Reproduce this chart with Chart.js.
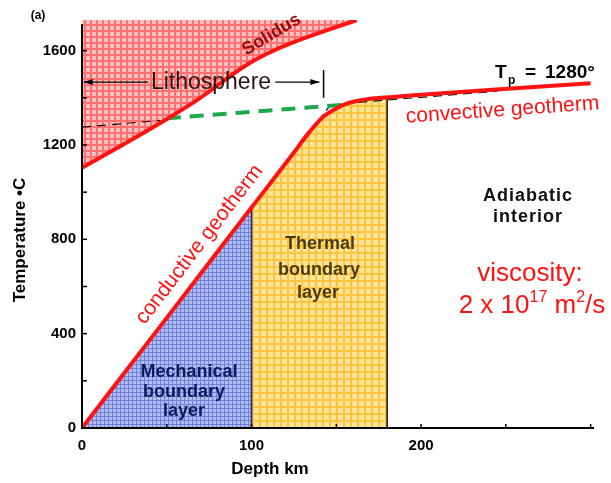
<!DOCTYPE html>
<html>
<head>
<meta charset="utf-8">
<script src="https://cdn.jsdelivr.net/npm/chart.js@4"></script>
<style>
  html, body { margin: 0; padding: 0; background: #fff; }
  #wrap { width: 611px; height: 483px; }
</style>
</head>
<body>
<div id="wrap"><canvas id="chart" width="611" height="483"></canvas></div>
<script>
// Solidus curve (depth km, temperature C)
const solidusDepth = [0, 30, 54, 68, 97, 110, 123, 162];
const solidusTemp = [1103, 1225, 1327, 1391, 1539, 1590, 1631, 1730];

// Geotherm: conductive part, thermal boundary layer bend, then convective adiabat
const geoDepth = [0, 50, 100, 125, 133, 142, 150, 156, 163, 170, 180, 194, 240, 300];
const geoTemp = [0, 467, 935, 1168, 1245, 1318, 1355, 1375, 1388, 1396, 1402, 1410, 1433, 1462];

// Base of the lithosphere (green dashed) and its continuation in the solidus area
const lithoBaseDepth = [50, 154];
const lithoBaseTemp = [1313, 1370];
const lithoGuideDepth = [0, 46];
const lithoGuideTemp = [1276, 1304];

// Dashed extrapolations
const conductiveExtDepth = [132, 146];
const conductiveExtTemp = [1235, 1364];
const adiabatExtDepth = [163, 245];
const adiabatExtTemp = [1381, 1428];

// Layer boundaries
const mechBase = 100;
const thermalBase = 180;

// Lithosphere arrow
const lithoArrowTemp = 1467;
const lithoArrowLeft = [1, 39];
const lithoArrowRight = [114, 140];
const lithoEnd = 142.5;
const lithoBarTemp = [1400, 1518];

const xTicks = [0, 50, 100, 150, 200, 250, 300];
const xTickLabels = [0, 100, 200];
const yTickLabels = [0, 400, 800, 1200, 1600];

const xy = (xs, ys) => xs.map((x, i) => ({ x: x, y: ys[i] }));
const geoPoints = xy(geoDepth, geoTemp);
const solidusPoints = xy(solidusDepth, solidusTemp);

const FONT = '"Liberation Sans", Arial, sans-serif';

function makePattern(base, line, size, lw) {
    const c = document.createElement('canvas');
    c.width = size;
    c.height = size;
    const g = c.getContext('2d');
    g.fillStyle = base;
    g.fillRect(0, 0, size, size);
    g.fillStyle = line;
    g.fillRect(0, 0, lw, size);
    g.fillRect(0, 0, size, lw);
    return g.createPattern(c, 'repeat');
}

const pinkFill = makePattern('#ffc0c0', '#ff7070', 6, 2);
const blueFill = makePattern('#b2bef2', '#7080dc', 4, 1);
const yellowFill = makePattern('#ffe59a', '#ffc440', 7, 2);

const RED = '#ff1212';

function lineSet(data, color, width, dash, order) {
    return {
        data: data,
        borderColor: color,
        borderWidth: width,
        borderDash: dash || [],
        pointRadius: 0,
        fill: false,
        order: order
    };
}

function fillSet(data, pattern, target) {
    return {
        data: data,
        borderWidth: 0,
        borderColor: 'rgba(0,0,0,0)',
        pointRadius: 0,
        fill: target,
        backgroundColor: pattern,
        cubicInterpolationMode: 'monotone',
        order: 20
    };
}

// Text, axes and arrows drawn on top of the datasets
const decorPlugin = {
    id: 'decor',
    afterDatasetsDraw(chart) {
        const ctx = chart.ctx;
        const xs = chart.scales.x;
        const ys = chart.scales.y;
        const a = chart.chartArea;
        ctx.save();

        // axes with inward ticks
        ctx.strokeStyle = '#000';
        ctx.lineWidth = 2;
        ctx.beginPath();
        ctx.moveTo(a.left, ys.getPixelForValue(1712));
        ctx.lineTo(a.left, a.bottom);
        ctx.lineTo(a.right, a.bottom);
        ctx.stroke();
        ctx.lineWidth = 1.5;
        ys.ticks.forEach(t => {
            const y = ys.getPixelForValue(t.value);
            ctx.beginPath();
            ctx.moveTo(a.left, y);
            ctx.lineTo(a.left + 5, y);
            ctx.stroke();
        });
        xTicks.forEach(v => {
            const x = xs.getPixelForValue(v);
            ctx.beginPath();
            ctx.moveTo(x, a.bottom);
            ctx.lineTo(x, a.bottom - 4);
            ctx.stroke();
        });

        // x tick labels
        ctx.fillStyle = '#000';
        ctx.textAlign = 'center';
        ctx.textBaseline = 'alphabetic';
        ctx.font = 'bold 15px ' + FONT;
        xTickLabels.forEach(v => {
            ctx.fillText(String(v), xs.getPixelForValue(v), a.bottom + 22);
        });

        // lithosphere arrowheads
        const ay = ys.getPixelForValue(lithoArrowTemp);
        const al = xs.getPixelForValue(lithoArrowLeft[0]);
        const ar = xs.getPixelForValue(lithoArrowRight[1]);
        ctx.beginPath();
        ctx.moveTo(al, ay);
        ctx.lineTo(al + 9, ay - 3);
        ctx.lineTo(al + 9, ay + 3);
        ctx.closePath();
        ctx.fill();
        ctx.beginPath();
        ctx.moveTo(ar, ay);
        ctx.lineTo(ar - 9, ay - 3);
        ctx.lineTo(ar - 9, ay + 3);
        ctx.closePath();
        ctx.fill();

        ctx.font = 'bold 12px ' + FONT;
        ctx.fillText('(a)', 38, 19);

        // Solidus
        ctx.save();
        ctx.translate(274, 39);
        ctx.rotate(-31 * Math.PI / 180);
        ctx.font = 'bold 18px ' + FONT;
        ctx.fillStyle = '#960a0a';
        ctx.fillText('Solidus', 0, 0);
        ctx.restore();

        // Lithosphere
        ctx.font = '23px ' + FONT;
        ctx.fillStyle = '#2b1414';
        ctx.fillText('Lithosphere', 211, 89);

        // Tp = 1280
        ctx.textAlign = 'left';
        ctx.fillStyle = '#000';
        ctx.font = 'bold 19px ' + FONT;
        ctx.fillText('T', 495, 78);
        ctx.font = 'bold 12px ' + FONT;
        ctx.fillText('p', 508, 84);
        ctx.font = 'bold 19px ' + FONT;
        ctx.fillText('=', 525, 78);
        ctx.fillText('1280°', 545, 78);

        // convective geotherm
        ctx.textAlign = 'center';
        ctx.save();
        ctx.translate(503, 116);
        ctx.rotate(-4 * Math.PI / 180);
        ctx.font = '21px ' + FONT;
        ctx.fillStyle = RED;
        ctx.fillText('convective geotherm', 0, 0);
        ctx.restore();

        // conductive geotherm, along the line
        const p0x = xs.getPixelForValue(geoDepth[0]);
        const p0y = ys.getPixelForValue(geoTemp[0]);
        const p1x = xs.getPixelForValue(geoDepth[2]);
        const p1y = ys.getPixelForValue(geoTemp[2]);
        const ang = Math.atan2(p1y - p0y, p1x - p0x);
        const mx = p0x + (p1x - p0x) * 0.78;
        const my = p0y + (p1y - p0y) * 0.78;
        ctx.save();
        ctx.translate(mx, my);
        ctx.rotate(ang);
        ctx.font = '21px ' + FONT;
        ctx.fillStyle = RED;
        ctx.fillText('conductive geotherm', 0, -13);
        ctx.restore();

        // layer labels
        ctx.font = 'bold 18px ' + FONT;
        ctx.fillStyle = '#0c1a5a';
        ctx.fillText('Mechanical', 189, 377);
        ctx.fillText('boundary', 184, 397);
        ctx.fillText('layer', 184, 416);

        ctx.fillStyle = '#4a3c08';
        ctx.fillText('Thermal', 320, 249);
        ctx.fillText('boundary', 319, 275);
        ctx.fillText('layer', 318, 298);

        ctx.fillStyle = '#111';
        ctx.letterSpacing = '1px';
        ctx.fillText('Adiabatic', 528, 201);
        ctx.fillText('interior', 528, 222);
        ctx.letterSpacing = '0px';

        // viscosity
        ctx.fillStyle = RED;
        ctx.font = '26px ' + FONT;
        ctx.fillText('viscosity:', 530, 281);
        const parts = [['2 x 10', 26, 0], ['17', 16, -11], [' m', 26, 0], ['2', 16, -11], ['/s', 26, 0]];
        let total = 0;
        parts.forEach(p => {
            ctx.font = p[1] + 'px ' + FONT;
            total += ctx.measureText(p[0]).width;
        });
        ctx.textAlign = 'left';
        let vx = 532 - total / 2;
        parts.forEach(p => {
            ctx.font = p[1] + 'px ' + FONT;
            ctx.fillText(p[0], vx, 313 + p[2]);
            vx += ctx.measureText(p[0]).width;
        });

        // axis titles
        ctx.textAlign = 'center';
        ctx.fillStyle = '#000';
        ctx.font = 'bold 17px ' + FONT;
        ctx.fillText('Depth km', 270, 474);
        ctx.save();
        ctx.translate(25, 240);
        ctx.rotate(-Math.PI / 2);
        ctx.fillText('Temperature •C', 0, 0);
        ctx.restore();

        ctx.restore();
    }
};

new Chart(document.getElementById('chart'), {
    type: 'line',
    data: {
        datasets: [
            // filled regions, drawn first
            fillSet(solidusPoints, pinkFill, 'end'),
            fillSet(geoPoints.filter(p => p.x <= mechBase), blueFill, 'origin'),
            fillSet(geoPoints.filter(p => p.x >= mechBase && p.x <= thermalBase), yellowFill, 'origin'),
            // layer edges
            lineSet([{ x: mechBase, y: 0 }, { x: mechBase, y: geoTemp[geoDepth.indexOf(mechBase)] }], '#14206a', 1.5, null, 5),
            lineSet([{ x: thermalBase, y: 0 }, { x: thermalBase, y: geoTemp[geoDepth.indexOf(thermalBase)] }], '#111', 1.5, null, 5),
            // dashed lines
            lineSet(xy(lithoGuideDepth, lithoGuideTemp), '#111', 1.2, [9, 6], 5),
            lineSet(xy(conductiveExtDepth, conductiveExtTemp), '#111', 1.2, [6, 5], 5),
            lineSet(xy(adiabatExtDepth, adiabatExtTemp), '#111', 1.2, [9, 6], 5),
            lineSet(xy(lithoBaseDepth, lithoBaseTemp), '#1fa84a', 4, [14, 9], 3),
            // lithosphere arrow
            lineSet(xy(lithoArrowLeft, [lithoArrowTemp, lithoArrowTemp]), '#000', 1.2, null, 5),
            lineSet(xy(lithoArrowRight, [lithoArrowTemp, lithoArrowTemp]), '#000', 1.2, null, 5),
            lineSet(xy([lithoEnd, lithoEnd], lithoBarTemp), '#000', 1.5, null, 5),
            // red curves on top
            Object.assign(lineSet(solidusPoints, RED, 4, null, 1), { cubicInterpolationMode: 'monotone' }),
            Object.assign(lineSet(geoPoints, RED, 4, null, 0), { cubicInterpolationMode: 'monotone' })
        ]
    },
    options: {
        responsive: false,
        animation: false,
        layout: { padding: { top: 20, right: 17, left: 0, bottom: 0 } },
        plugins: {
            legend: { display: false },
            tooltip: { enabled: false }
        },
        scales: {
            x: {
                type: 'linear',
                min: 0,
                max: 302,
                grid: { display: false, drawTicks: false },
                border: { display: false },
                ticks: { display: false },
                afterFit: s => { s.height = 55; }
            },
            y: {
                type: 'linear',
                min: 0,
                max: 1730,
                grid: { display: false, drawTicks: false },
                border: { display: false },
                ticks: {
                    stepSize: 200,
                    includeBounds: false,
                    padding: 6,
                    autoSkip: false,
                    color: '#000',
                    font: { family: FONT, size: 15, weight: 'bold' },
                    callback: v => yTickLabels.includes(v) ? String(v) : ''
                },
                afterFit: s => { s.width = 82; }
            }
        }
    },
    plugins: [decorPlugin]
});
</script>
</body>
</html>
